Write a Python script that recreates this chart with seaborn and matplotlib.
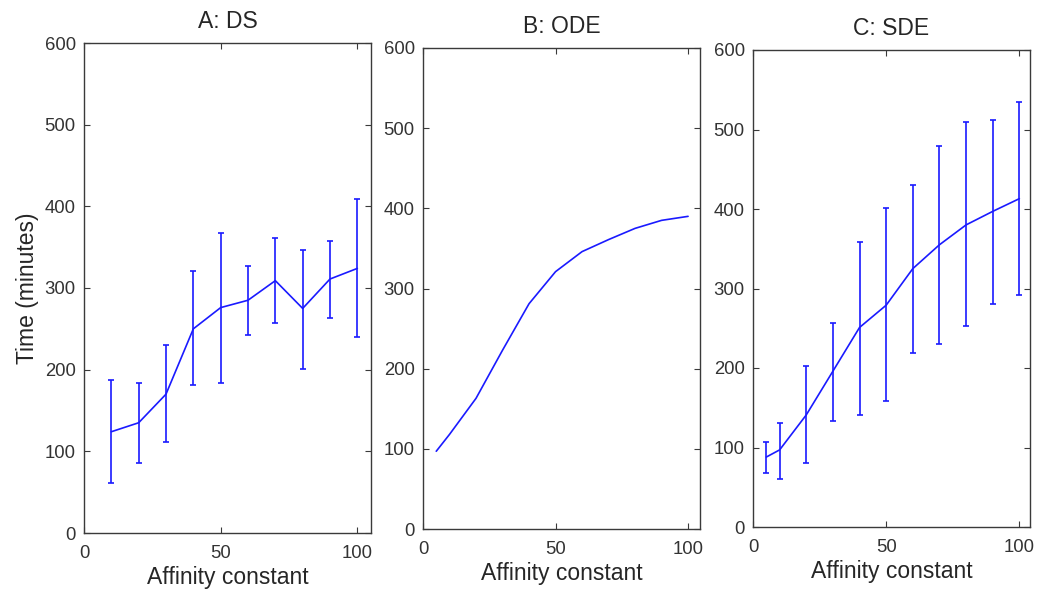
import numpy as np
import pandas as pd
import matplotlib
matplotlib.use("Agg")
import matplotlib.pyplot as plt
import seaborn as sns

# --- data ---
ds_x = [10, 20, 30, 40, 50, 60, 70, 80, 90, 100]
ds_mean = [124, 135, 170, 250, 276, 285, 309, 275, 311, 324]
ds_low = [61, 86, 112, 181, 184, 243, 257, 201, 263, 240]
ds_high = [187, 184, 230, 321, 367, 327, 361, 347, 358, 409]

ode_x = [5, 10, 20, 30, 40, 50, 60, 70, 80, 90, 100]
ode_y = [97, 118, 163, 223, 281, 321, 346, 361, 375, 385, 390]

sde_x = [5, 10, 20, 30, 40, 50, 60, 70, 80, 90, 100]
sde_mean = [88, 97, 141, 196, 251, 279, 325, 355, 380, 397, 413]
sde_low = [68, 61, 80, 133, 141, 159, 219, 230, 253, 281, 292]
sde_high = [107, 131, 203, 257, 358, 401, 430, 479, 509, 512, 535]

titles = ["A: DS", "B: ODE", "C: SDE"]

sns.set_theme(style="white")
plt.rcParams['font.family'] = ['Liberation Sans', 'DejaVu Sans']

W, H = 1044, 595
fig = plt.figure(figsize=(W / 100, H / 100), dpi=100)

# panel boxes in pixels: left, right, top, bottom
boxes = [(84, 371, 43, 533), (423, 700, 48, 529), (753, 1030, 50, 527)]
xmax = [105, 104.5, 104]

axes = []
for (l, r, t, b) in boxes:
    ax = fig.add_axes([l / W, (H - b) / H, (r - l) / W, (b - t) / H])
    axes.append(ax)

LINE = "#1a1aff"
GRAY = "#3a3a3a"
TXT = "#262626"


def style(ax, i):
    ax.set_xlim(0, xmax[i])
    ax.set_ylim(0, 600)
    ax.set_xticks([0, 50, 100])
    ax.set_yticks(range(0, 601, 100))
    ax.tick_params(direction="in", length=4, width=0.8, colors=GRAY,
                   labelsize=13.3, labelcolor="#333333",
                   top=True, right=True, bottom=True, left=True)
    ax.tick_params(axis="x", pad=8.5)
    ax.tick_params(axis="y", pad=6)
    for s in ax.spines.values():
        s.set_color(GRAY)
        s.set_linewidth(1.0)
        s.set_visible(True)
    ax.set_title(titles[i], fontsize=16.5, color=TXT, pad=11)
    ax.set_xlabel("Affinity constant", fontsize=16.5, color=TXT, labelpad=3)
    ax.set_ylabel("")
    ax.grid(False)


def draw_err(ax, x, mean, low, high):
    df = pd.DataFrame({"x": x, "y": mean})
    sns.lineplot(data=df, x="x", y="y", ax=ax, color=LINE, linewidth=1.2)
    m = np.array(mean)
    yerr = [m - np.array(low), np.array(high) - m]
    ax.errorbar(x, mean, yerr=yerr, fmt="none", ecolor=LINE,
                elinewidth=1.2, capsize=2.5, capthick=1.2)


draw_err(axes[0], ds_x, ds_mean, ds_low, ds_high)
sns.lineplot(data=pd.DataFrame({"x": ode_x, "y": ode_y}), x="x", y="y",
             ax=axes[1], color=LINE, linewidth=1.2)
draw_err(axes[2], sde_x, sde_mean, sde_low, sde_high)

for i, ax in enumerate(axes):
    style(ax, i)

axes[0].set_ylabel("Time (minutes)", fontsize=16.5, color=TXT, labelpad=4)

fig.savefig("out.png", dpi=100, facecolor="white")
